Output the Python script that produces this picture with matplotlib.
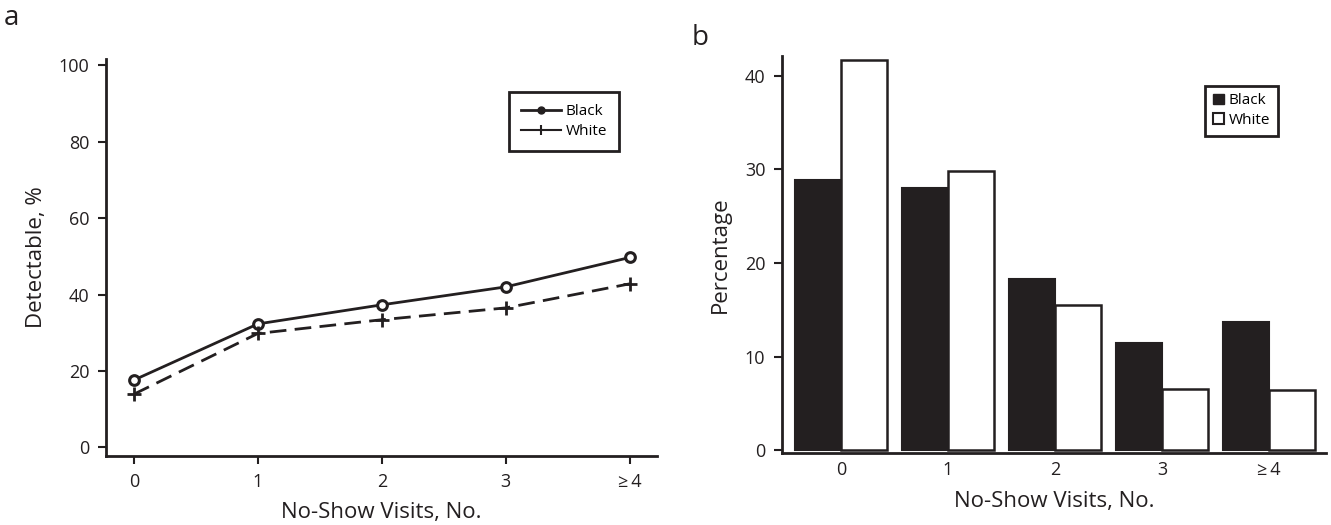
import matplotlib.pyplot as plt
import numpy as np
from matplotlib.lines import Line2D
from matplotlib.patches import Patch

plt.rcParams['font.family'] = ['Open Sans', 'DejaVu Sans']

# data
categories = ['0', '1', '2', '3', '≥\u20094']
detect_black = [17.6, 32.3, 37.3, 42.0, 49.7]
detect_white = [13.9, 29.8, 33.4, 36.5, 42.8]
pct_black = [28.9, 28.0, 18.3, 11.4, 13.7]
pct_white = [41.7, 29.8, 15.5, 6.5, 6.4]

ink = '#231f20'

fig = plt.figure(figsize=(13.31, 5.25), dpi=100)
ax1 = fig.add_axes([0.0796, 0.131, 0.414, 0.757])
ax2 = fig.add_axes([0.5875, 0.137, 0.4087, 0.756])

x = np.arange(len(categories))


def style(ax):
    for s in ['top', 'right']:
        ax.spines[s].set_visible(False)
    for s in ['left', 'bottom']:
        ax.spines[s].set_linewidth(2)
        ax.spines[s].set_color(ink)
    ax.tick_params(direction='out', length=6, width=1.5, color=ink,
                   labelsize=13, labelcolor=ink, pad=6)


# panel a
ax1.plot(x, detect_black, color=ink, lw=2, marker='o', ms=7,
         mfc='white', mec=ink, mew=2.2)
ax1.plot(x, detect_white, color=ink, lw=2, ls=(0, (6, 3)), marker='+',
         ms=10, mew=2)
ax1.set_xlim(-0.226, 4.22)
ax1.set_ylim(-2.36, 101.75)
ax1.set_yticks([0, 20, 40, 60, 80, 100])
ax1.set_xticks(x)
ax1.set_xticklabels(categories)
ax1.set_ylabel('Detectable, %', fontsize=16, color=ink, labelpad=8)
ax1.set_xlabel('No-Show Visits, No.', fontsize=16, color=ink, labelpad=8)
style(ax1)
h1 = [Line2D([], [], color=ink, lw=2, marker='o', ms=5, mfc=ink, mec=ink),
      Line2D([], [], color=ink, lw=1.5, marker='|', ms=7, mew=1.5)]
leg1 = ax1.legend(h1, ['Black', 'White'], loc='upper right',
                  bbox_to_anchor=(0.945, 0.935), fancybox=False, edgecolor=ink,
                  fontsize=11, handlelength=2.6, borderpad=0.8,
                  labelspacing=0.3, handletextpad=0.3, framealpha=1)
leg1.get_frame().set_linewidth(2)

# panel b
w = 0.43
ax2.bar(x - w / 2, pct_black, w, color=ink, edgecolor=ink, lw=1.5)
ax2.bar(x + w / 2, pct_white, w, color='white', edgecolor=ink, lw=1.8)
ax2.set_xlim(-0.551, 4.53)
ax2.set_ylim(-0.32, 42.1)
ax2.set_yticks([0, 10, 20, 30, 40])
ax2.set_xticks(x)
ax2.set_xticklabels(categories)
ax2.set_ylabel('Percentage', fontsize=16, color=ink, labelpad=10)
ax2.set_xlabel('No-Show Visits, No.', fontsize=16, color=ink, labelpad=8)
style(ax2)
ax2.tick_params(axis='x', length=0)
h2 = [Patch(facecolor=ink, edgecolor=ink),
      Patch(facecolor='white', edgecolor=ink, lw=1.5)]
leg2 = ax2.legend(h2, ['Black', 'White'], loc='upper right',
                  bbox_to_anchor=(0.925, 0.945), fancybox=False, edgecolor=ink,
                  fontsize=11, handlelength=0.7, handleheight=0.7,
                  borderpad=0.5, labelspacing=0.3, handletextpad=0.3,
                  framealpha=1)
leg2.get_frame().set_linewidth(2)

fig.text(0.003, 0.965, 'a', fontsize=20, color=ink, va='center')
fig.text(0.520, 0.928, 'b', fontsize=20, color=ink, va='center')

fig.savefig('out.png', dpi=100)
